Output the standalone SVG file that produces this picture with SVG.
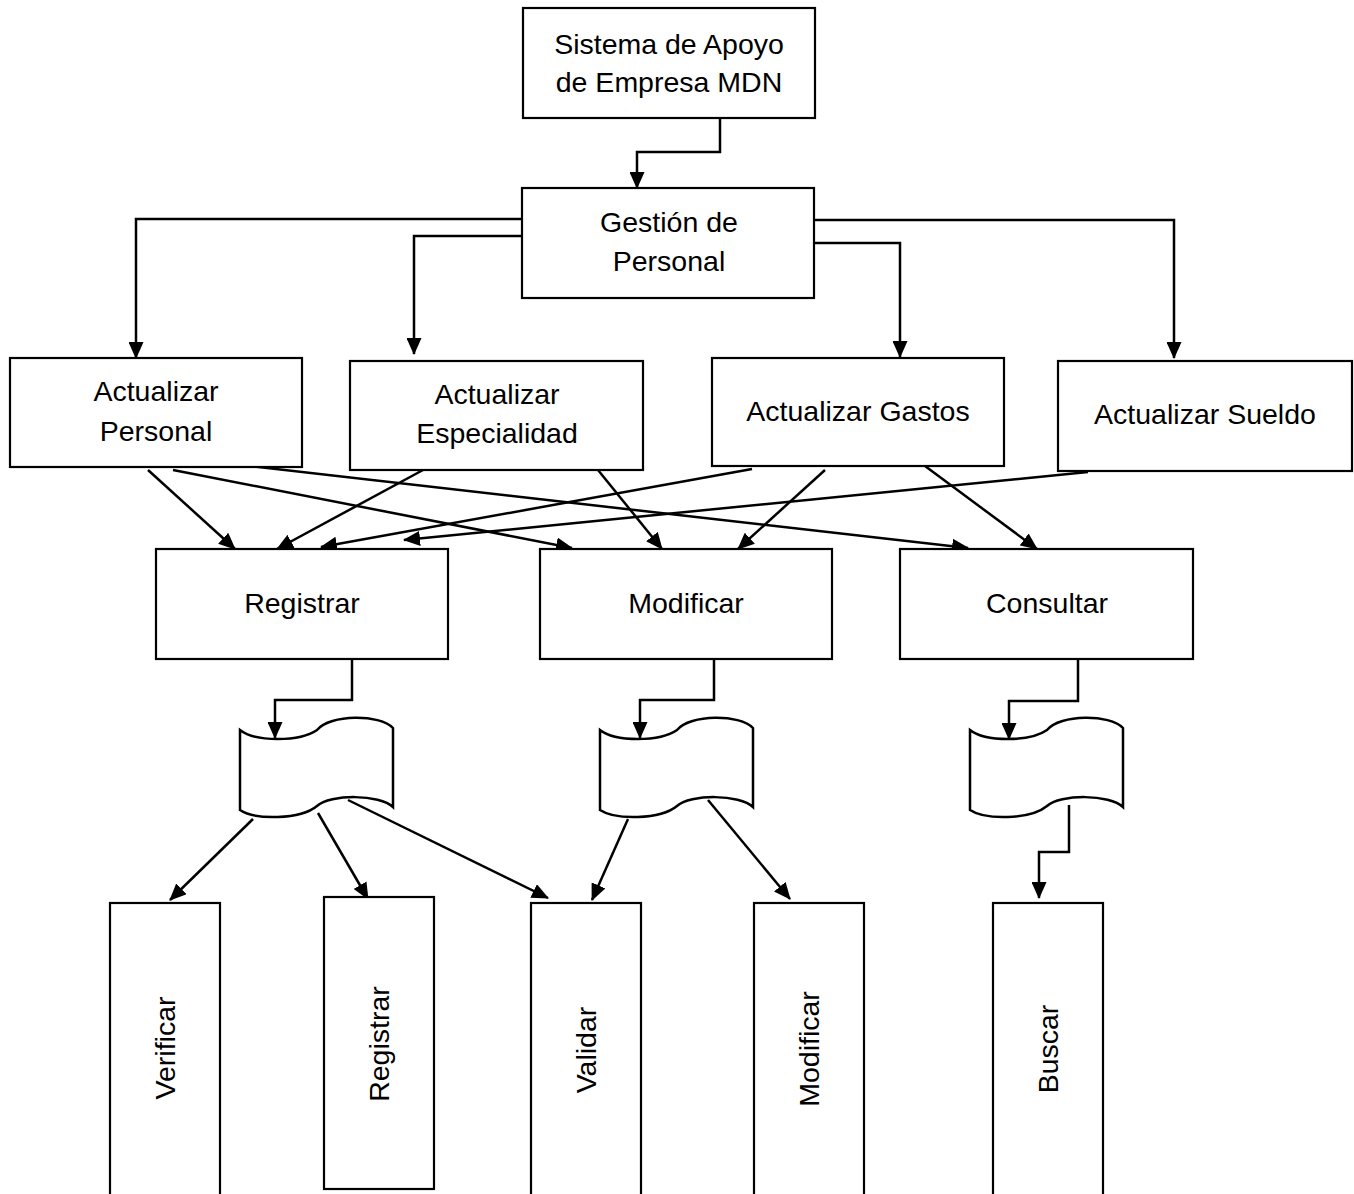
<svg xmlns="http://www.w3.org/2000/svg" width="1354" height="1194" viewBox="0 0 1354 1194">
<style>
.box{fill:#fff;stroke:#000;stroke-width:2.2}
.doc{fill:#fff;stroke:#000;stroke-width:2.5}
.t{font-family:"Liberation Sans",Arial,sans-serif;font-size:28.5px;fill:#000;text-anchor:middle}
.c{fill:none;stroke:#000;stroke-width:2.5;marker-end:url(#ah)}
</style>
<defs>
<marker id="ah" viewBox="0 0 17 15" refX="16" refY="7.5" markerWidth="17" markerHeight="15" markerUnits="userSpaceOnUse" orient="auto">
<path d="M0,0 L17,7.5 L0,15 Z" fill="#000"/>
</marker>
</defs>
<rect width="1354" height="1194" fill="#fff"/>
<g id="connectors">
<path class="c" d="M720,118 V152 H637 V188"/>
<path class="c" d="M522,219 H136 V358"/>
<path class="c" d="M526,236 H414 V354"/>
<path class="c" d="M814,220 H1174 V358"/>
<path class="c" d="M814,243 H900 V357"/>
<path class="c" d="M148,470 L235,549"/>
<path class="c" d="M173,470 L572,548"/>
<path class="c" d="M240,465 L968,548"/>
<path class="c" d="M423,470 L277,549"/>
<path class="c" d="M752,469 L321,547"/>
<path class="c" d="M1088,472 L404,540"/>
<path class="c" d="M598,470 L662,549"/>
<path class="c" d="M825,470 L738,549"/>
<path class="c" d="M925,466 L1037,549"/>
<path class="c" d="M352,660 V700 H275 V738"/>
<path class="c" d="M714,660 V700 H640 V738"/>
<path class="c" d="M1078,660 V701 H1009 V739"/>
<path class="c" d="M1069,805 V852 H1039 V898"/>
<path class="c" d="M253,819 L170,900"/>
<path class="c" d="M318,813 L368,899"/>
<path class="c" d="M348,800 L548,898"/>
<path class="c" d="M628,819 L592,900"/>
<path class="c" d="M708,800 L790,899"/>
</g>
<g id="n-sistema"><rect class="box" x="523" y="8" width="292" height="110"/><text class="t" x="669" y="54">Sistema de Apoyo</text><text class="t" x="669" y="92">de Empresa MDN</text></g>
<g id="n-gestion"><rect class="box" x="522" y="188" width="292" height="110"/><text class="t" x="669" y="232">Gestión de</text><text class="t" x="669" y="271">Personal</text></g>
<g id="n-actpersonal"><rect class="box" x="10" y="358" width="292" height="109"/><text class="t" x="156" y="401">Actualizar</text><text class="t" x="156" y="441">Personal</text></g>
<g id="n-actespecialidad"><rect class="box" x="350" y="361" width="293" height="109"/><text class="t" x="497" y="404">Actualizar</text><text class="t" x="497" y="443">Especialidad</text></g>
<g id="n-actgastos"><rect class="box" x="712" y="358" width="292" height="108"/><text class="t" x="858" y="421">Actualizar Gastos</text></g>
<g id="n-actsueldo"><rect class="box" x="1058" y="361" width="294" height="110"/><text class="t" x="1205" y="424">Actualizar Sueldo</text></g>
<g id="n-registrar"><rect class="box" x="156" y="549" width="292" height="110"/><text class="t" x="302" y="613">Registrar</text></g>
<g id="n-modificar"><rect class="box" x="540" y="549" width="292" height="110"/><text class="t" x="686" y="613">Modificar</text></g>
<g id="n-consultar"><rect class="box" x="900" y="549" width="293" height="110"/><text class="t" x="1047" y="613">Consultar</text></g>
<g id="n-doc1"><path class="doc" d="M240,730 C255,742 300,742 317,730 C330,714 380,714 393,728 L393,807 C380,794 330,794 317,806 C300,820 255,820 240,810 Z"/></g>
<g id="n-doc2"><path class="doc" transform="translate(360,0)" d="M240,730 C255,742 300,742 317,730 C330,714 380,714 393,728 L393,807 C380,794 330,794 317,806 C300,820 255,820 240,810 Z"/></g>
<g id="n-doc3"><path class="doc" transform="translate(730,0)" d="M240,730 C255,742 300,742 317,730 C330,714 380,714 393,728 L393,807 C380,794 330,794 317,806 C300,820 255,820 240,810 Z"/></g>
<g id="n-verificar"><rect class="box" x="110" y="903" width="110" height="300"/><text class="t" transform="translate(165,1048) rotate(-90)" x="0" y="10">Verificar</text></g>
<g id="n-registrar2"><rect class="box" x="324" y="897" width="110" height="292"/><text class="t" transform="translate(379,1044) rotate(-90)" x="0" y="10">Registrar</text></g>
<g id="n-validar"><rect class="box" x="531" y="903" width="110" height="300"/><text class="t" transform="translate(586,1050) rotate(-90)" x="0" y="10">Validar</text></g>
<g id="n-modificar2"><rect class="box" x="754" y="903" width="110" height="300"/><text class="t" transform="translate(809,1049) rotate(-90)" x="0" y="10">Modificar</text></g>
<g id="n-buscar"><rect class="box" x="993" y="903" width="110" height="300"/><text class="t" transform="translate(1048,1049) rotate(-90)" x="0" y="10">Buscar</text></g>
</svg>
